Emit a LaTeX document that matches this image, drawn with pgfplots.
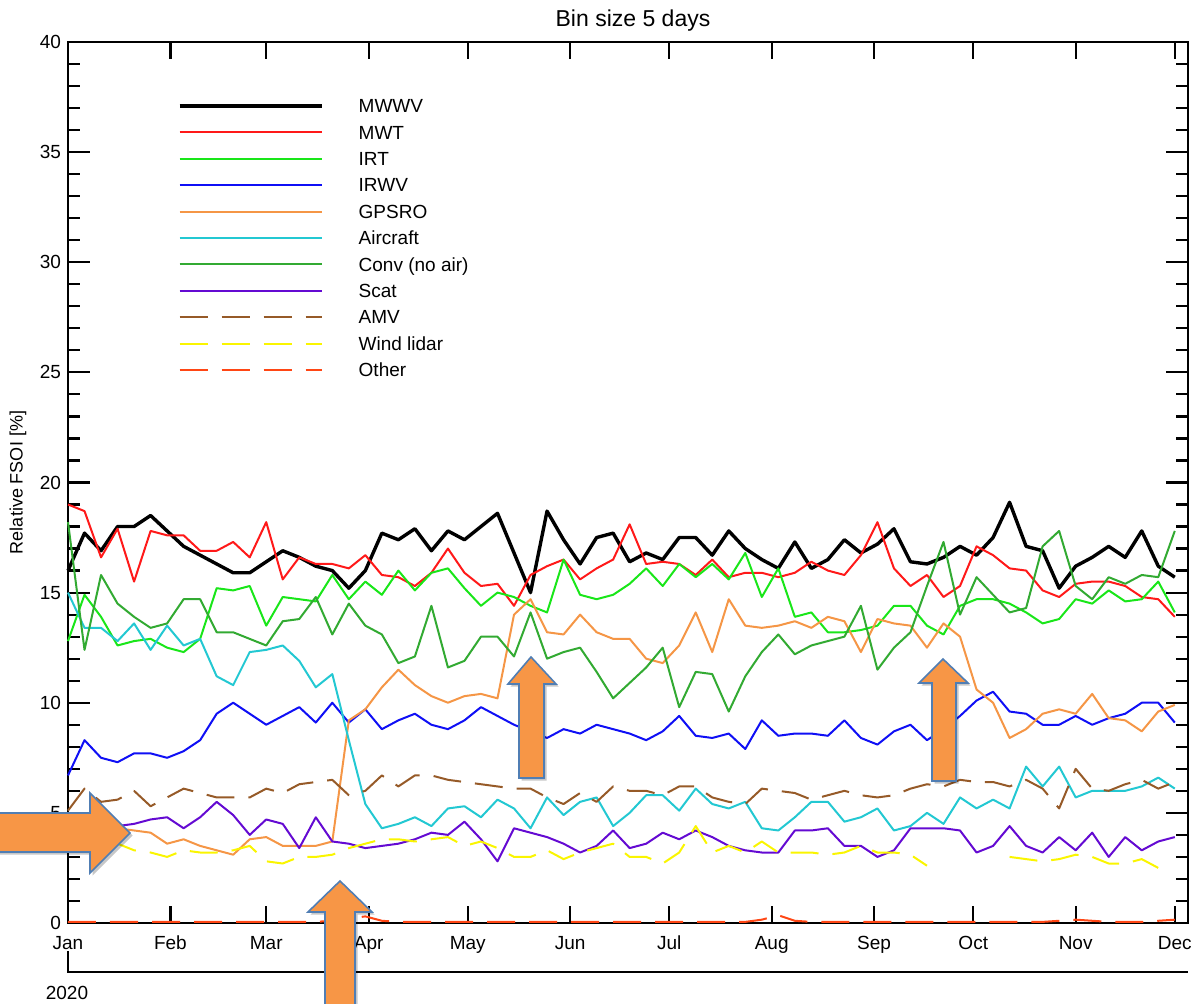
\documentclass[border=0pt]{standalone}
\usepackage{fontspec}
\setmainfont{Liberation Sans}
\usepackage{pgfplots}
\usepackage{pgfplotstable}
\pgfplotsset{compat=1.18}

\definecolor{cMWT}{RGB}{255,25,25}
\definecolor{cIRT}{RGB}{25,230,25}
\definecolor{cIRWV}{RGB}{15,15,245}
\definecolor{cGPS}{RGB}{245,150,70}
\definecolor{cAIR}{RGB}{35,200,210}
\definecolor{cCONV}{RGB}{50,170,50}
\definecolor{cSCAT}{RGB}{100,10,210}
\definecolor{cAMV}{RGB}{150,90,40}
\definecolor{cLID}{RGB}{250,245,0}
\definecolor{cOTH}{RGB}{255,70,20}
\definecolor{arrowfill}{RGB}{247,150,70}
\definecolor{arrowedge}{RGB}{80,126,180}

\pgfplotstableread{
d mwwv mwt irt irwv gps air conv scat amv lidar other
0 16.0 19.0 12.8 6.7 4.5 15.0 18.2 4.0 5.1 4.0 0.05
5 17.7 18.7 14.9 8.3 4.4 13.4 12.4 4.0 6.1 3.9 0.05
10 16.9 16.6 13.9 7.5 4.3 13.4 15.8 4.2 5.5 3.7 0.05
15 18.0 17.9 12.6 7.3 4.3 12.8 14.5 4.4 5.6 3.6 0.05
20 18.0 15.5 12.8 7.7 4.2 13.6 13.9 4.5 6.0 3.3 0.05
25 18.5 17.8 12.9 7.7 4.1 12.4 13.4 4.7 5.3 3.2 0.05
30 17.8 17.6 12.5 7.5 3.6 13.5 13.6 4.8 5.7 3.0 0.05
35 17.1 17.6 12.3 7.8 3.8 12.6 14.7 4.3 6.1 3.3 0.05
40 16.7 16.9 12.9 8.3 3.5 12.9 14.7 4.8 5.9 3.2 0.05
45 16.3 16.9 15.2 9.5 3.3 11.2 13.2 5.5 5.7 3.2 0.05
50 15.9 17.3 15.1 10.0 3.1 10.8 13.2 4.9 5.7 3.3 0.05
55 15.9 16.6 15.3 9.5 3.8 12.3 12.9 4.0 5.7 3.5 0.05
60 16.4 18.2 13.5 9.0 3.9 12.4 12.6 4.7 6.1 2.8 0.05
65 16.9 15.6 14.8 9.4 3.5 12.6 13.7 4.5 5.9 2.7 0.05
70 16.6 16.6 14.7 9.8 3.5 11.9 13.8 3.4 6.3 3.0 0.05
75 16.2 16.3 14.6 9.1 3.5 10.7 14.8 4.8 6.4 3.0 0.05
80 16.0 16.3 15.8 10.0 3.7 11.3 13.1 3.7 6.5 3.1 0.1
85 15.2 16.1 14.7 9.1 9.2 8.3 14.5 3.6 5.8 3.4 0.2
90 16.0 16.7 15.5 9.7 9.7 5.4 13.5 3.4 6.0 3.6 0.3
95 17.7 15.8 14.9 8.8 10.7 4.3 13.1 3.5 6.7 3.8 0.1
100 17.4 15.7 16.0 9.2 11.5 4.5 11.8 3.6 6.2 3.8 0.05
105 17.9 15.3 15.1 9.5 10.8 4.8 12.1 3.8 6.7 3.7 0.05
110 16.9 15.9 15.9 9.0 10.3 4.4 14.4 4.1 6.7 3.8 0.05
115 17.8 17.0 16.1 8.8 10.0 5.2 11.6 4.0 6.5 3.9 0.05
120 17.4 15.9 15.2 9.2 10.3 5.3 11.9 4.6 6.4 3.5 0.05
125 18.0 15.3 14.4 9.8 10.4 4.8 13.0 3.8 6.3 3.7 0.05
130 18.6 15.4 15.0 9.4 10.2 5.6 13.0 2.8 6.2 3.4 0.05
135 16.8 14.4 14.8 9.0 14.0 5.2 12.1 4.3 6.1 3.0 0.05
140 15.0 15.8 14.4 8.7 14.7 4.3 14.1 4.1 6.1 3.0 0.05
145 18.7 16.2 14.1 8.4 13.2 5.7 12.0 3.9 5.7 3.3 0.05
150 17.4 16.5 16.5 8.8 13.1 4.9 12.3 3.6 5.4 2.9 0.05
155 16.3 15.6 14.9 8.6 14.0 5.5 12.5 3.2 5.9 3.2 0.05
160 17.5 16.1 14.7 9.0 13.2 5.7 11.4 3.5 5.5 3.4 0.05
165 17.7 16.5 14.9 8.8 12.9 4.4 10.2 4.2 6.2 3.6 0.05
170 16.4 18.1 15.4 8.6 12.9 5.0 10.9 3.4 6.0 3.0 0.05
175 16.8 16.3 16.1 8.3 12.0 5.8 11.6 3.6 6.0 3.0 0.05
180 16.5 16.4 15.3 8.7 11.8 5.8 12.5 4.1 5.8 2.7 0.05
185 17.5 16.3 16.3 9.4 12.6 5.1 9.8 3.8 6.2 3.2 0.05
190 17.5 15.8 15.7 8.5 14.1 6.1 11.4 4.2 6.2 4.4 0.05
195 16.7 16.5 16.3 8.4 12.3 5.4 11.3 3.9 5.7 3.2 0.05
200 17.8 15.7 15.6 8.6 14.7 5.2 9.6 3.5 5.5 3.5 0.05
205 17.0 15.9 16.8 7.9 13.5 5.5 11.2 3.3 5.4 3.2 0.05
210 16.5 15.9 14.8 9.2 13.4 4.3 12.3 3.2 6.1 3.7 0.15
215 16.1 15.7 16.1 8.5 13.5 4.2 13.1 3.2 6.0 3.2 0.35
220 17.3 15.9 13.9 8.6 13.7 4.8 12.2 4.2 5.9 3.2 0.1
225 16.1 16.4 14.1 8.6 13.4 5.5 12.6 4.2 5.6 3.2 0.05
230 16.5 16.0 13.2 8.5 13.9 5.5 12.8 4.3 5.8 3.1 0.05
235 17.4 15.8 13.2 9.2 13.7 4.6 13.0 3.5 6.0 3.2 0.05
240 16.8 16.7 13.3 8.4 12.3 4.8 14.4 3.5 5.8 3.5 0.05
245 17.2 18.2 13.5 8.1 13.8 5.2 11.5 3.0 5.7 3.2 0.05
250 17.9 16.1 14.4 8.7 13.6 4.2 12.5 3.3 5.8 3.2 0.05
255 16.4 15.3 14.4 9.0 13.5 4.4 13.2 4.3 6.1 3.1 0.05
260 16.3 15.8 13.5 8.3 12.5 5.0 15.3 4.3 6.3 2.6 0.05
265 16.6 14.8 13.1 8.8 13.6 4.5 17.3 4.3 6.2 nan 0.05
270 17.1 15.3 14.4 9.4 13.0 5.7 14.0 4.2 6.5 nan 0.05
275 16.7 17.1 14.7 10.1 10.6 5.2 15.7 3.2 6.4 nan 0.05
280 17.5 16.7 14.7 10.5 10.0 5.6 14.9 3.5 6.4 nan 0.05
285 19.1 16.1 14.5 9.6 8.4 5.2 14.1 4.4 6.2 3.0 0.05
290 17.1 16.0 14.1 9.5 8.8 7.1 14.3 3.5 6.5 2.9 0.05
295 16.9 15.1 13.6 9.0 9.5 6.2 17.1 3.2 6.1 2.8 0.05
300 15.2 14.8 13.8 9.0 9.7 7.1 17.8 3.9 5.2 2.9 0.1
305 16.2 15.4 14.7 9.4 9.5 5.7 15.3 3.3 7.0 3.1 0.15
310 16.6 15.5 14.5 9.0 10.4 6.0 14.7 4.1 6.1 3.0 0.1
315 17.1 15.5 15.1 9.3 9.3 6.0 15.7 3.0 6.0 2.7 0.05
320 16.6 15.3 14.6 9.5 9.2 6.0 15.4 3.9 6.3 2.7 0.05
325 17.8 14.8 14.7 10.0 8.7 6.2 15.8 3.3 6.5 2.9 0.05
330 16.2 14.7 15.5 10.0 9.6 6.6 15.7 3.7 6.1 2.5 0.1
335 15.7 13.9 14.1 9.1 9.9 6.1 17.8 3.9 6.4 nan 0.15
}\fsoi

\newcommand\farrow[1]{%
  \fill[black,opacity=0.22,shift={(1.3pt,-1.3pt)}] #1 -- cycle;
  \filldraw[fill=arrowfill,draw=arrowedge,line width=0.8pt,line join=miter] #1 -- cycle;}

\begin{document}
\begin{tikzpicture}
\path[use as bounding box] (-34pt,-40.5pt) rectangle (564pt,461.5pt);
\begin{axis}[
  at={(0pt,0pt)}, anchor=south west,
  width=560pt, height=440.5pt, scale only axis,
  xmin=0, xmax=339, ymin=0, ymax=40,
  xtick={0,31,60,91,121,152,182,213,244,274,305,335},
  xticklabels={Jan,Feb,Mar,Apr,May,Jun,Jul,Aug,Sep,Oct,Nov,Dec},
  ytick={0,5,...,40},
  minor y tick num=4,
  tick align=inside,
  major tick length=11pt, minor tick length=6pt,
  xtick style={/pgfplots/major tick length=8.5pt},
  tick style={black,line width=1.1pt},
  axis line style={line width=1.2pt},
  /pgf/number format/assume math mode=true,
  ticklabel style={font=\fontsize{9.5}{11}\selectfont},
  xticklabel style={anchor=base,yshift=-13.5pt},
  title={Bin size 5 days},
  title style={font=\fontsize{11.5}{13}\selectfont, at={(0.5,1)}, anchor=base, yshift=1.5pt, xshift=2.5pt},
  ylabel={Relative FSOI [\%]},
  ylabel style={font=\fontsize{9}{10}\selectfont, at={(axis description cs:-0.0446,0.5)}, anchor=center},
  clip=false,
  legend cell align=left,
  legend image code/.code={\draw[#1] (0pt,0pt) -- (71pt,0pt); \path[draw=none,fill=none] (0pt,0pt) -- (89.5pt,0pt);},
  legend style={draw=none, fill=none, inner sep=0pt, outer sep=0pt,
    at={(axis description cs:0,1)}, anchor=north west, xshift=55pt, yshift=-25.4pt,
    column sep=0pt, row sep=0pt,
    font=\fontsize{9.5}{10.5}\selectfont,
    nodes={inner sep=0pt, text height=10pt, text depth=3.2pt, anchor=west}},
  every axis plot/.append style={line width=1pt, line join=round},
]
\addplot[black, line width=1.7pt] table[x=d,y=mwwv] {\fsoi};
\addlegendentry{MWWV}
\addplot[cMWT] table[x=d,y=mwt] {\fsoi};
\addlegendentry{MWT}
\addplot[cIRT] table[x=d,y=irt] {\fsoi};
\addlegendentry{IRT}
\addplot[cIRWV] table[x=d,y=irwv] {\fsoi};
\addlegendentry{IRWV}
\addplot[cGPS] table[x=d,y=gps] {\fsoi};
\addlegendentry{GPSRO}
\addplot[cAIR] table[x=d,y=air] {\fsoi};
\addlegendentry{Aircraft}
\addplot[cCONV] table[x=d,y=conv] {\fsoi};
\addlegendentry{Conv (no air)}
\addplot[cSCAT] table[x=d,y=scat] {\fsoi};
\addlegendentry{Scat}
\addplot[cAMV, dash pattern=on 14pt off 7pt] table[x=d,y=amv] {\fsoi};
\addlegendentry{AMV}
\addplot[cLID, dash pattern=on 14pt off 7pt, unbounded coords=jump] table[x=d,y=lidar] {\fsoi};
\addlegendentry{Wind lidar}
\addplot[cOTH, dash pattern=on 14pt off 7pt] table[x=d,y=other] {\fsoi};
\addlegendentry{Other}
\end{axis}
% secondary year axis
\draw[line width=1.2pt] (0pt,-14pt) -- (0pt,-24.5pt) -- (560pt,-24.5pt);
\node[font=\fontsize{9.5}{11}\selectfont, anchor=center] at (-0.5pt,-35pt) {2020};
% annotation arrows
\farrow{(-40pt,55pt) -- (11pt,55pt) -- (11pt,65pt) -- (31pt,45pt) -- (11pt,25pt) -- (11pt,35.5pt) -- (-40pt,35.5pt)}
\farrow{(128.5pt,-45pt) -- (128.5pt,5.5pt) -- (120pt,5.5pt) -- (136pt,21pt) -- (152pt,5.5pt) -- (143.5pt,5.5pt) -- (143.5pt,-45pt)}
\farrow{(225.5pt,72.5pt) -- (225.5pt,119.5pt) -- (220pt,119.5pt) -- (231.5pt,133pt) -- (244pt,119.5pt) -- (238pt,119.5pt) -- (238pt,72.5pt)}
\farrow{(432pt,71pt) -- (432pt,120pt) -- (425.5pt,120pt) -- (437.5pt,132pt) -- (450pt,120pt) -- (444pt,120pt) -- (444pt,71pt)}
\end{tikzpicture}
\end{document}
